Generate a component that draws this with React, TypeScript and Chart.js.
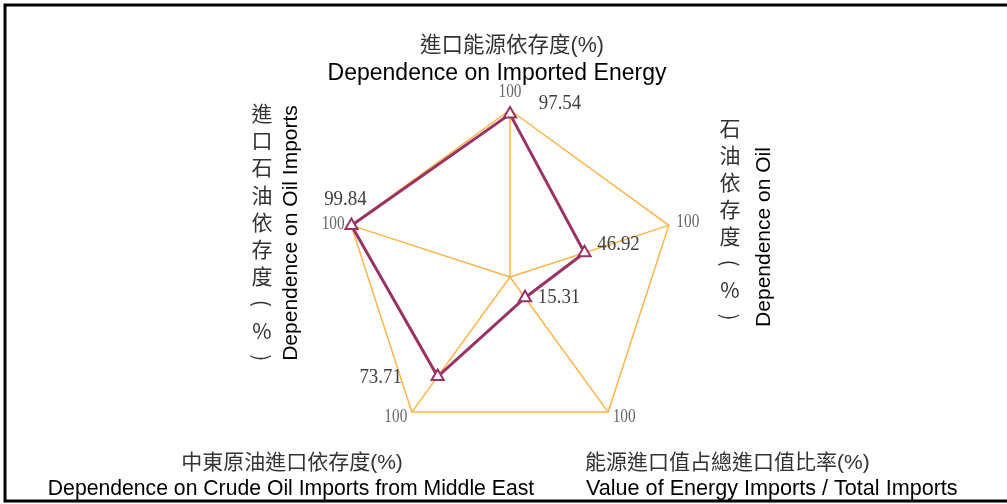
import React, { useEffect, useRef } from "react";
import { Chart, registerables } from "chart.js";

Chart.register(...registerables);

const categories = [
  "Dependence on Imported Energy",
  "Dependence on Oil",
  "Value of Energy Imports / Total Imports",
  "Dependence on Crude Oil Imports from Middle East",
  "Dependence on Oil Imports",
];
const seriesValues = [97.54, 46.92, 15.31, 73.71, 99.84];
const valueLabels = ["97.54", "46.92", "15.31", "73.71", "99.84"];
const axisMaxLabel = "100";

const PURPLE = "#993366";
const ORANGE = "#FFB447";
const SANS = "'Liberation Sans', Arial, 'Noto Sans CJK TC', sans-serif";
const SERIF = "'Liberation Serif', 'Times New Roman', serif";

// offsets of value labels relative to data points
const valueOffsets = [
  [50, -11],
  [34, -8],
  [34, 0],
  [-57, 1],
  [-6, -26],
];
const maxOffsets = [
  [0, -18],
  [19, -3],
  [16, 5],
  [-16, 5],
  [-18, -1],
];

function txt(ctx: CanvasRenderingContext2D, s: string, x: number, y: number, font: string, color: string, align: CanvasTextAlign = "center", sx = 1) {
  ctx.save();
  ctx.font = font;
  ctx.fillStyle = color;
  ctx.textAlign = align;
  ctx.textBaseline = "middle";
  ctx.translate(x, y);
  ctx.scale(sx, 1);
  ctx.fillText(s, 0, 0);
  ctx.restore();
}

function vertical(ctx: CanvasRenderingContext2D, chars: string[], x: number, y0: number, step: number) {
  chars.forEach((c, i) => {
    const y = y0 + i * step;
    ctx.save();
    ctx.font = "21px 'Noto Sans CJK TC', sans-serif";
    ctx.fillStyle = "#333333";
    ctx.textAlign = "center";
    ctx.textBaseline = "middle";
    ctx.translate(x, y);
    if (c === "(" || c === ")") ctx.rotate(Math.PI / 2);
    ctx.fillText(c, 0, 0);
    ctx.restore();
  });
}

function rotatedText(ctx: CanvasRenderingContext2D, s: string, x: number, y: number) {
  ctx.save();
  ctx.font = "21px " + SANS;
  ctx.fillStyle = "#000000";
  ctx.textAlign = "center";
  ctx.textBaseline = "middle";
  ctx.translate(x, y);
  ctx.rotate(-Math.PI / 2);
  ctx.fillText(s, 0, 0);
  ctx.restore();
}

const decorPlugin = {
  id: "decor",
  afterDraw(chart: any) {
    const ctx: CanvasRenderingContext2D = chart.ctx;
    const scale = chart.scales.r;
    const meta = chart.getDatasetMeta(0);

    meta.data.forEach((pt: any, i: number) => {
      const [dx, dy] = valueOffsets[i];
      txt(ctx, valueLabels[i], pt.x + dx, pt.y + dy, "21px " + SERIF, "#404040", "center", 0.9);
    });
    for (let i = 0; i < categories.length; i++) {
      const p = scale.getPointPosition(i, scale.drawingArea);
      const [dx, dy] = maxOffsets[i];
      txt(ctx, axisMaxLabel, p.x + dx, p.y + dy, "18px " + SERIF, "#666666", "center", 0.85);
    }

    // top
    txt(ctx, "進口能源依存度(%)", 512, 46, "21.5px " + SANS, "#333333");
    txt(ctx, "Dependence on Imported Energy", 497, 74, "23px " + SANS, "#000000");
    // bottom-left
    txt(ctx, "中東原油進口依存度(%)", 292, 463, "21px " + SANS, "#333333");
    txt(ctx, "Dependence on Crude Oil Imports from Middle East", 291, 489, "21.2px " + SANS, "#000000");
    // bottom-right
    txt(ctx, "能源進口值占總進口值比率(%)", 585, 463, "21px " + SANS, "#333333", "left");
    txt(ctx, "Value of Energy Imports / Total Imports", 586, 489, "21.6px " + SANS, "#000000", "left");
    // left vertical
    vertical(ctx, ["進", "口", "石", "油", "依", "存", "度", "(", "%", ")"], 262, 113, 27.2);
    rotatedText(ctx, "Dependence on Oil Imports", 291, 233);
    // right vertical
    vertical(ctx, ["石", "油", "依", "存", "度", "(", "%", ")"], 730, 128, 27);
    rotatedText(ctx, "Dependence on Oil", 764, 237);

    // frame
    ctx.save();
    ctx.strokeStyle = "#000000";
    ctx.lineWidth = 3;
    ctx.strokeRect(5, 5, 1010, 496);
    ctx.restore();
  },
};

export default function App() {
  const ref = useRef<HTMLCanvasElement | null>(null);
  useEffect(() => {
    if (!ref.current) return;
    const chart = new Chart(ref.current, {
      type: "radar",
      data: {
        labels: categories,
        datasets: [
          {
            data: seriesValues,
            borderColor: PURPLE,
            borderWidth: 3,
            backgroundColor: "rgba(0,0,0,0)",
            fill: false,
            pointStyle: "triangle",
            pointRadius: 7,
            pointBorderWidth: 2,
            pointBorderColor: PURPLE,
            pointBackgroundColor: "#ffffff",
          },
        ],
      },
      options: {
        animation: false,
        responsive: false,
        layout: { padding: { left: 343, right: 330, top: 110, bottom: 60 } },
        plugins: { legend: { display: false }, tooltip: { enabled: false } },
        elements: { line: { tension: 0 } },
        scales: {
          r: {
            min: 0,
            max: 100,
            ticks: { display: false, stepSize: 100 },
            grid: { color: ORANGE, lineWidth: 1.5 },
            angleLines: { color: ORANGE, lineWidth: 1.5 },
            pointLabels: { display: false },
          },
        },
      },
      plugins: [decorPlugin],
    });
    return () => chart.destroy();
  }, []);
  return (
    <div style={{ position: "absolute", left: 0, top: 0, width: 1007, height: 504, background: "#fff" }}>
      <canvas ref={ref} width={1007} height={504} style={{ width: 1007, height: 504, display: "block" }} />
    </div>
  );
}
